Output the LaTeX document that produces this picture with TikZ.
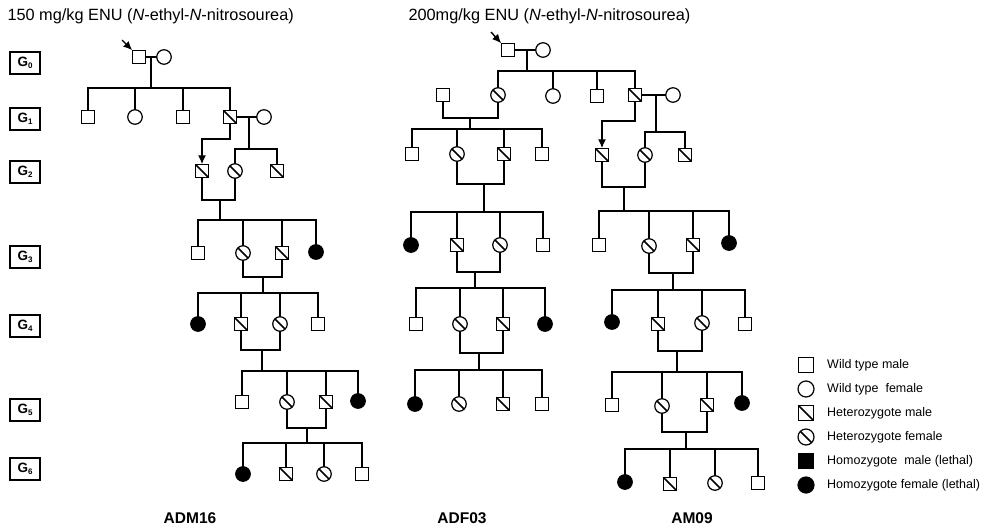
\documentclass[tikz,border=0pt]{standalone}
\usepackage{fontspec}
\setmainfont{Liberation Sans}
\usetikzlibrary{arrows.meta}
\begin{document}
\begin{tikzpicture}[x=1pt,y=-1pt,
  sym/.style={draw,line width=1.2pt,inner sep=0pt,outer sep=0pt},
  wm/.style={sym,rectangle,minimum size=13.5pt},
  wf/.style={sym,circle,minimum size=14.5pt},
  hm/.style={wm,path picture={\draw[line width=1.5pt] (path picture bounding box.north west) -- (path picture bounding box.south east);}},
  hf/.style={wf,path picture={\draw[line width=1.5pt] (path picture bounding box.north west) -- (path picture bounding box.south east);}},
  am/.style={wm,fill=black},
  af/.style={wf,fill=black},
  lwm/.style={wm,minimum size=15pt},
  lwf/.style={wf,minimum size=16pt},
  lhm/.style={hm,minimum size=15pt},
  lhf/.style={hf,minimum size=16pt},
  lam/.style={am,minimum size=15pt},
  laf/.style={af,minimum size=16pt},
  ln/.style={line width=1.3pt},
  arr/.style={line width=1.4pt,-{Latex[length=9pt,width=8pt]}},
  gen/.style={draw,line width=1.4pt,minimum width=30pt,minimum height=22pt,inner sep=0pt,font=\bfseries\fontsize{13.5}{13.5}\selectfont},
  lbl/.style={font=\bfseries\fontsize{15.5}{15.5}\selectfont},
  top/.style={anchor=west,font=\fontsize{16.3}{16.3}\selectfont},
  leg/.style={anchor=west,font=\fontsize{12.5}{12.5}\selectfont,inner sep=0pt}
]
\useasboundingbox (0,0) rectangle (987,530);

% ---------- top texts ----------
\node[top] (t1) at (4,16) {150 mg/kg ENU (\textit{N}-ethyl-\textit{N}-nitrosourea)};
\node[top] (t2) at (405,16) {200mg/kg ENU (\textit{N}-ethyl-\textit{N}-nitrosourea)};

% ---------- generation boxes ----------
\newcommand{\gsub}[1]{G\raisebox{-2.5pt}{\fontsize{8}{8}\selectfont #1}}
\node[gen] (g0) at (25,63) {\gsub{0}};
\node[gen] (g1) at (25,119) {\gsub{1}};
\node[gen] (g2) at (25,172) {\gsub{2}};
\node[gen] (g3) at (25,257) {\gsub{3}};
\node[gen] (g4) at (25,326) {\gsub{4}};
\node[gen] (g5) at (25,410) {\gsub{5}};
\node[gen] (g6) at (25,469) {\gsub{6}};

% ================= ADM16 =================
\node[wm] (a0m) at (139,57) {};
\node[wf] (a0f) at (164,57) {};
\coordinate (a0x) at (122,40);
\draw[arr] (a0x) -- (a0m.north west);
\draw[ln] (a0m) -- (a0f);
\coordinate (a0j) at (151,57); \coordinate (a1s) at (151,88);
\draw[ln] (a0j) -- (a1s);
\node[wm] (a1a) at (88,117) {};
\node[wf] (a1b) at (135,117) {};
\node[wm] (a1c) at (183,117) {};
\node[hm] (a1d) at (230,117) {};
\node[wf] (a1p) at (264,117) {};
\draw[ln] (a1a.north) |- (a1s) -| (a1d.north);
\draw[ln] (a1b.north) -- (a1b.north |- a1s);
\draw[ln] (a1c.north) -- (a1c.north |- a1s);
\draw[ln] (a1d) -- (a1p);
\coordinate (a1j) at (249,117); \coordinate (a2s) at (249,149);
\draw[ln] (a1j) -- (a2s);
\node[hm] (a2a) at (202,171) {};
\node[hf] (a2b) at (235,171) {};
\node[hm] (a2c) at (277,171) {};
\draw[ln] (a2b.north) |- (a2s) -| (a2c.north);
\coordinate (a1k) at (230,139);
\draw[arr] (a1d.south) -- (a1k) -| (a2a.north);
% G2 -> G3
\coordinate (a2j) at (220,200); \coordinate (a3s) at (220,220);
\draw[ln] (a2a.south) |- (a2j) -| (a2b.south);
\draw[ln] (a2j) -- (a3s);
\node[wm] (a3a) at (198,253) {};
\node[hf] (a3b) at (243,253) {};
\node[hm] (a3c) at (282,253) {};
\node[af] (a3d) at (316,252) {};
\draw[ln] (a3a.north) |- (a3s) -| (a3d.north);
\draw[ln] (a3b.north) -- (a3b.north |- a3s);
\draw[ln] (a3c.north) -- (a3c.north |- a3s);
% G3 -> G4
\coordinate (a3j) at (263,277); \coordinate (a4s) at (263,293);
\draw[ln] (a3b.south) |- (a3j) -| (a3c.south);
\draw[ln] (a3j) -- (a4s);
\node[af] (a4a) at (198,324) {};
\node[hm] (a4b) at (241,324) {};
\node[hf] (a4c) at (280,324) {};
\node[wm] (a4d) at (318,324) {};
\draw[ln] (a4a.north) |- (a4s) -| (a4d.north);
\draw[ln] (a4b.north) -- (a4b.north |- a4s);
\draw[ln] (a4c.north) -- (a4c.north |- a4s);
% G4 -> G5
\coordinate (a4j) at (262,350); \coordinate (a5s) at (262,371);
\draw[ln] (a4b.south) |- (a4j) -| (a4c.south);
\draw[ln] (a4j) -- (a5s);
\node[wm] (a5a) at (242,402) {};
\node[hf] (a5b) at (287,402) {};
\node[hm] (a5c) at (326,402) {};
\node[af] (a5d) at (358,401) {};
\draw[ln] (a5a.north) |- (a5s) -| (a5d.north);
\draw[ln] (a5b.north) -- (a5b.north |- a5s);
\draw[ln] (a5c.north) -- (a5c.north |- a5s);
% G5 -> G6
\coordinate (a5j) at (307,428); \coordinate (a6s) at (307,443);
\draw[ln] (a5b.south) |- (a5j) -| (a5c.south);
\draw[ln] (a5j) -- (a6s);
\node[af] (a6a) at (243,474) {};
\node[hm] (a6b) at (286,474) {};
\node[hf] (a6c) at (324,474) {};
\node[wm] (a6d) at (362,474) {};
\draw[ln] (a6a.north) |- (a6s) -| (a6d.north);
\draw[ln] (a6b.north) -- (a6b.north |- a6s);
\draw[ln] (a6c.north) -- (a6c.north |- a6s);
\node[lbl] (la) at (190,518) {ADM16};

% ================= ADF03 =================
\node[wm] (b0m) at (508,50) {};
\node[wf] (b0f) at (543,50) {};
\coordinate (b0x) at (491,32);
\draw[arr] (b0x) -- (b0m.north west);
\draw[ln] (b0m) -- (b0f);
\coordinate (b0j) at (527,50); \coordinate (b1s) at (527,71);
\draw[ln] (b0j) -- (b1s);
\node[wm] (b1a) at (443,95) {};
\node[hf] (b1b) at (498,95) {};
\node[wf] (b1c) at (553,96) {};
\node[wm] (b1d) at (597,96) {};
\node[hm] (b1e) at (635,95) {};
\node[wf] (b1p) at (673,95) {};
\draw[ln] (b1b.north) |- (b1s) -| (b1e.north);
\draw[ln] (b1c.north) -- (b1c.north |- b1s);
\draw[ln] (b1d.north) -- (b1d.north |- b1s);
\draw[ln] (b1e) -- (b1p);
% G1 couple -> G2
\coordinate (b1j) at (470,118); \coordinate (b2s) at (470,129);
\draw[ln] (b1a.south) |- (b1j) -| (b1b.south);
\draw[ln] (b1j) -- (b2s);
\node[wm] (b2a) at (412,154) {};
\node[hf] (b2b) at (457,154) {};
\node[hm] (b2c) at (504,154) {};
\node[wm] (b2d) at (542,154) {};
\draw[ln] (b2a.north) |- (b2s) -| (b2d.north);
\draw[ln] (b2b.north) -- (b2b.north |- b2s);
\draw[ln] (b2c.north) -- (b2c.north |- b2s);
% G2 -> G3
\coordinate (b2j) at (484,184); \coordinate (b3s) at (484,212);
\draw[ln] (b2b.south) |- (b2j) -| (b2c.south);
\draw[ln] (b2j) -- (b3s);
\node[af] (b3a) at (411,245) {};
\node[hm] (b3b) at (457,245) {};
\node[hf] (b3c) at (500,245) {};
\node[wm] (b3d) at (543,245) {};
\draw[ln] (b3a.north) |- (b3s) -| (b3d.north);
\draw[ln] (b3b.north) -- (b3b.north |- b3s);
\draw[ln] (b3c.north) -- (b3c.north |- b3s);
% G3 -> G4
\coordinate (b3j) at (475,272); \coordinate (b4s) at (475,288);
\draw[ln] (b3b.south) |- (b3j) -| (b3c.south);
\draw[ln] (b3j) -- (b4s);
\node[wm] (b4a) at (416,324) {};
\node[hf] (b4b) at (460,324) {};
\node[hm] (b4c) at (503,324) {};
\node[af] (b4d) at (545,324) {};
\draw[ln] (b4a.north) |- (b4s) -| (b4d.north);
\draw[ln] (b4b.north) -- (b4b.north |- b4s);
\draw[ln] (b4c.north) -- (b4c.north |- b4s);
% G4 -> G5
\coordinate (b4j) at (479,353); \coordinate (b5s) at (479,370);
\draw[ln] (b4b.south) |- (b4j) -| (b4c.south);
\draw[ln] (b4j) -- (b5s);
\node[af] (b5a) at (415,404) {};
\node[hf] (b5b) at (459,404) {};
\node[hm] (b5c) at (503,404) {};
\node[wm] (b5d) at (542,404) {};
\draw[ln] (b5a.north) |- (b5s) -| (b5d.north);
\draw[ln] (b5b.north) -- (b5b.north |- b5s);
\draw[ln] (b5c.north) -- (b5c.north |- b5s);
\node[lbl] (lb) at (462,518) {ADF03};

% ================= AM09 =================
\coordinate (b1j2) at (656,95); \coordinate (c2s) at (656,132);
\draw[ln] (b1j2) -- (c2s);
\node[hm] (c2a) at (602,155) {};
\node[hf] (c2b) at (645,155) {};
\node[hm] (c2c) at (685,155) {};
\draw[ln] (c2b.north) |- (c2s) -| (c2c.north);
\coordinate (b1k) at (635,121);
\draw[arr] (b1e.south) -- (b1k) -| (c2a.north);
% G2 -> G3
\coordinate (c2j) at (624,187); \coordinate (c3s) at (624,211);
\draw[ln] (c2a.south) |- (c2j) -| (c2b.south);
\draw[ln] (c2j) -- (c3s);
\node[wm] (c3a) at (599,245) {};
\node[hf] (c3b) at (649,246) {};
\node[hm] (c3c) at (693,245) {};
\node[af] (c3d) at (729,243) {};
\draw[ln] (c3a.north) |- (c3s) -| (c3d.north);
\draw[ln] (c3b.north) -- (c3b.north |- c3s);
\draw[ln] (c3c.north) -- (c3c.north |- c3s);
% G3 -> G4
\coordinate (c3j) at (673,273); \coordinate (c4s) at (673,290);
\draw[ln] (c3b.south) |- (c3j) -| (c3c.south);
\draw[ln] (c3j) -- (c4s);
\node[af] (c4a) at (612,322) {};
\node[hm] (c4b) at (658,324) {};
\node[hf] (c4c) at (702,323) {};
\node[wm] (c4d) at (745,324) {};
\draw[ln] (c4a.north) |- (c4s) -| (c4d.north);
\draw[ln] (c4b.north) -- (c4b.north |- c4s);
\draw[ln] (c4c.north) -- (c4c.north |- c4s);
% G4 -> G5
\coordinate (c4j) at (677,351); \coordinate (c5s) at (677,372);
\draw[ln] (c4b.south) |- (c4j) -| (c4c.south);
\draw[ln] (c4j) -- (c5s);
\node[wm] (c5a) at (612,405) {};
\node[hf] (c5b) at (662,406) {};
\node[hm] (c5c) at (707,405) {};
\node[af] (c5d) at (742,403) {};
\draw[ln] (c5a.north) |- (c5s) -| (c5d.north);
\draw[ln] (c5b.north) -- (c5b.north |- c5s);
\draw[ln] (c5c.north) -- (c5c.north |- c5s);
% G5 -> G6
\coordinate (c5j) at (686,432); \coordinate (c6s) at (686,449);
\draw[ln] (c5b.south) |- (c5j) -| (c5c.south);
\draw[ln] (c5j) -- (c6s);
\node[af] (c6a) at (625,482) {};
\node[hm] (c6b) at (670,484) {};
\node[hf] (c6c) at (715,483) {};
\node[wm] (c6d) at (758,483) {};
\draw[ln] (c6a.north) |- (c6s) -| (c6d.north);
\draw[ln] (c6b.north) -- (c6b.north |- c6s);
\draw[ln] (c6c.north) -- (c6c.north |- c6s);
\node[lbl] (lc) at (692,518) {AM09};

% ================= legend =================
\node[lwm] (k1) at (806,365) {};
\node[leg] (k1t) at (827,365) {Wild type male};
\node[lwf] (k2) at (806,389) {};
\node[leg] (k2t) at (827,389) {Wild type\ \ female};
\node[lhm] (k3) at (806,413) {};
\node[leg] (k3t) at (827,413) {Heterozygote male};
\node[lhf] (k4) at (806,437) {};
\node[leg] (k4t) at (827,437) {Heterozygote female};
\node[lam] (k5) at (806,461) {};
\node[leg] (k5t) at (827,461) {Homozygote\ \ male (lethal)};
\node[laf] (k6) at (806,485) {};
\node[leg] (k6t) at (827,485) {Homozygote female (lethal)};
\end{tikzpicture}
\end{document}
